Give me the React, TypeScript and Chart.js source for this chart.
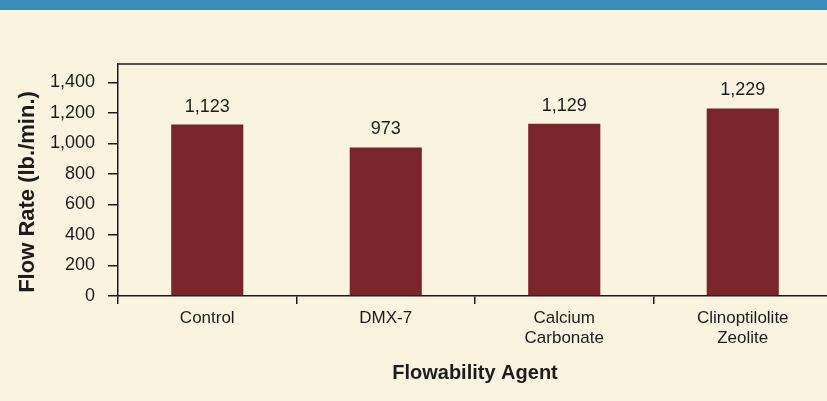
import React, { useEffect, useRef } from 'react';
import { Chart, registerables } from 'chart.js';

Chart.register(...registerables);

const categories: string[][] = [['Control'], ['DMX-7'], ['Calcium', 'Carbonate'], ['Clinoptilolite', 'Zeolite']];
const flowRates: number[] = [1123, 973, 1129, 1229];
const yMin = 0;
const yMax = 1520;
const yTopTick = 1400;
const yStep = 200;
const xTitle = 'Flowability Agent';
const yTitle = 'Flow Rate (lb./min.)';

const FONT = '"Liberation Sans", Arial, Helvetica, sans-serif';
const INK = '#1c1c1c';
const BAR = '#7a2529';
const BG = '#faf3e0';
const BAND = '#3a8cb8';

const frameTop = {
  id: 'frameTop',
  afterDraw(chart: any) {
    const { ctx, chartArea } = chart;
    ctx.save();
    ctx.strokeStyle = INK;
    ctx.lineWidth = 1.5;
    ctx.beginPath();
    ctx.moveTo(chartArea.left, chartArea.top);
    ctx.lineTo(chartArea.right, chartArea.top);
    ctx.stroke();
    ctx.restore();
  },
};

const yAxisTitle = {
  id: 'yAxisTitle',
  afterDraw(chart: any) {
    const { ctx, chartArea } = chart;
    ctx.save();
    ctx.fillStyle = INK;
    ctx.font = `bold 22px ${FONT}`;
    ctx.textAlign = 'center';
    ctx.textBaseline = 'middle';
    ctx.translate(28, (chartArea.top + chartArea.bottom) / 2 + 12);
    ctx.rotate(-Math.PI / 2);
    ctx.fillText(yTitle, 0, 0);
    ctx.restore();
  },
};

const valueLabels = {
  id: 'valueLabels',
  afterDatasetsDraw(chart: any) {
    const { ctx } = chart;
    const meta = chart.getDatasetMeta(0);
    ctx.save();
    ctx.fillStyle = INK;
    ctx.font = `18px ${FONT}`;
    ctx.textAlign = 'center';
    ctx.textBaseline = 'alphabetic';
    meta.data.forEach((bar: any, i: number) => {
      const v = chart.data.datasets[0].data[i] as number;
      ctx.fillText(v.toLocaleString('en-US'), bar.x, bar.y - 13);
    });
    ctx.restore();
  },
};

export default function App() {
  const ref = useRef<HTMLCanvasElement>(null);

  useEffect(() => {
    if (!ref.current) return;
    const chart = new Chart(ref.current, {
      type: 'bar',
      data: {
        labels: categories,
        datasets: [
          {
            data: flowRates,
            backgroundColor: BAR,
            borderWidth: 0,
            categoryPercentage: 1,
            barPercentage: 0.404,
          },
        ],
      },
      options: {
        animation: false,
        responsive: false,
        devicePixelRatio: 1,
        layout: { padding: { top: 64, right: 8, left: 0, bottom: 0 } },
        plugins: {
          legend: { display: false },
          tooltip: { enabled: false },
        },
        scales: {
          x: {
            afterFit: (s: any) => {
              s.height = 105;
            },
            grid: {
              display: true,
              drawOnChartArea: false,
              drawTicks: true,
              tickLength: 8,
              offset: true,
              color: INK,
              lineWidth: 1.5,
            },
            border: { display: true, color: INK, width: 1.5 },
            ticks: {
              color: INK,
              font: { family: FONT, size: 17, lineHeight: 1.2 },
              padding: 4,
              maxRotation: 0,
              autoSkip: false,
            },
            title: {
              display: true,
              text: xTitle,
              color: INK,
              font: { family: FONT, size: 20, weight: 'bold', lineHeight: 1.2 },
              padding: { top: 0, bottom: 16 },
            },
          },
          y: {
            min: yMin,
            max: yMax,
            afterFit: (s: any) => {
              s.width = 118;
            },
            afterBuildTicks: (s: any) => {
              const t = [];
              for (let v = yMin; v <= yTopTick; v += yStep) t.push({ value: v });
              s.ticks = t;
            },
            grid: {
              display: true,
              drawOnChartArea: false,
              drawTicks: true,
              tickLength: 10,
              color: INK,
              lineWidth: 1.5,
            },
            border: { display: true, color: INK, width: 1.5 },
            ticks: {
              color: INK,
              font: { family: FONT, size: 18 },
              padding: 13,
              callback: (v: any) => Number(v).toLocaleString('en-US'),
            },
            title: { display: false },
          },
        },
      },
      plugins: [frameTop, valueLabels, yAxisTitle],
    });
    return () => chart.destroy();
  }, []);

  return (
    <div
      style={{
        position: 'fixed',
        left: 0,
        top: 0,
        width: 827,
        height: 401,
        overflow: 'hidden',
        background: BG,
      }}
    >
      <canvas ref={ref} width={840} height={401} style={{ position: 'absolute', left: 0, top: 0, width: 840, height: 401 }} />
      <div style={{ position: 'absolute', left: 0, top: 0, width: 827, height: 10, background: BAND }} />
    </div>
  );
}
